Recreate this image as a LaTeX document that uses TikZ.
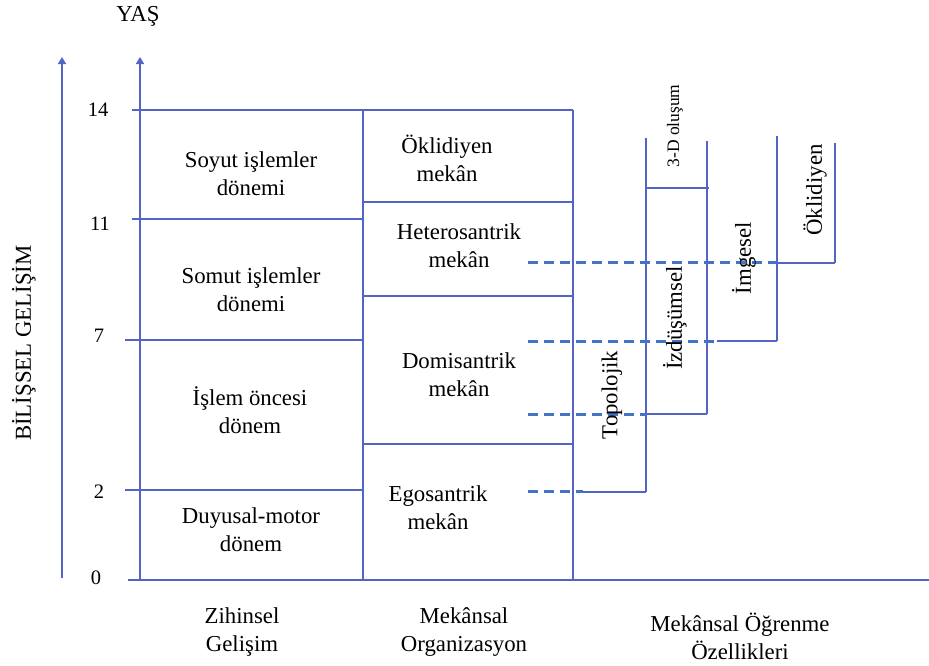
\documentclass[tikz,border=0pt]{standalone}
\usepackage{fontspec}
\setmainfont{Liberation Serif}
\usetikzlibrary{arrows.meta}
\definecolor{lineblue}{RGB}{84,100,196}
\definecolor{dashblue}{RGB}{68,114,196}
\begin{document}
\begin{tikzpicture}[x=1pt,y=-1pt,
  ln/.style={lineblue, line width=2.4pt},
  ax/.style={lineblue, line width=2.8pt, -{Triangle[length=7pt,width=8pt]}},
  dsh/.style={dashblue, line width=3pt, dash pattern=on 10pt off 6pt},
  lbl/.style={font=\fontsize{22.8}{28}\selectfont, align=center, inner sep=0pt},
  num/.style={font=\fontsize{20.5}{24}\selectfont, inner sep=0pt},
  vlbl/.style={font=\fontsize{22.8}{26}\selectfont, rotate=90, inner sep=0pt}]
\useasboundingbox (0,0) rectangle (929,665);
% axes
\draw[ax] (62,578) -- (62,57);
\draw[ax] (140,581) -- (140,57);
\draw[ln] (128,580) -- (929,580);
% horizontal ticks / row lines
\draw[ln] (132,110) -- (573,110);
\draw[ln] (132,219) -- (363,219);
\draw[ln] (125,340) -- (363,340);
\draw[ln] (125,490) -- (363,490);
% column lines
\draw[ln] (363,110) -- (363,580);
\draw[ln] (573,110) -- (573,580);
\draw[ln] (363,202) -- (573,202);
\draw[ln] (363,296) -- (573,296);
\draw[ln] (363,444) -- (573,444);
% staircase
\draw[ln] (646,138) -- (646,492);
\draw[ln] (707,141) -- (707,414);
\draw[ln] (777,136) -- (777,341);
\draw[ln] (835,143) -- (835,263);
\draw[ln] (583,492) -- (646,492);
\draw[ln] (646,414) -- (707,414);
\draw[ln] (717,341) -- (777,341);
\draw[ln] (777,263) -- (835,263);
\draw[ln] (646,188) -- (709,188);
% dashed
\draw[dsh] (528,491) -- (583,491);
\draw[dsh] (528,414) -- (646,414);
\draw[dsh] (528,341) -- (717,341);
\draw[dsh] (528,262) -- (777,262);
% numbers
\node[num] (n14) at (98,110) {14};
\node[num] (n11) at (100,224) {11};
\node[num] (n7) at (99,336) {7};
\node[num] (n2) at (99,492) {2};
\node[num] (n0) at (96,578) {0};
\node[lbl] (yas) at (138,16) {YAŞ};
\node[vlbl] (bil) at (24,343) {BİLİŞSEL GELİŞİM};
% left column
\node[lbl] (soyut) at (251,174) {Soyut işlemler\\dönemi};
\node[lbl] (somut) at (251,290) {Somut işlemler\\dönemi};
\node[lbl] (islem) at (250,410) {İşlem öncesi\\dönem};
\node[lbl] (duyu) at (251,530) {Duyusal-motor\\dönem};
% middle column
\node[lbl] (okl) at (447,158) {Öklidiyen\\mekân};
\node[lbl] (het) at (459,246) {Heterosantrik\\mekân};
\node[lbl] (dom) at (459,375) {Domisantrik\\mekân};
\node[lbl] (ego) at (438,508) {Egosantrik\\mekân};
% bottom
\node[lbl] (zih) at (242,632) {Zihinsel\\Gelişim};
\node[lbl] (morg) at (464,632) {Mekânsal\\Organizasyon};
\node[lbl] (mog) at (740,636) {Mekânsal Öğrenme\\Özellikleri};
% vertical labels
\node[vlbl] (topo) at (612,395) {Topolojik};
\node[vlbl] (izd) at (675,318) {İzdüşümsel};
\node[vlbl, font=\fontsize{17.5}{20}\selectfont] (td) at (675,126) {3-D oluşum};
\node[vlbl] (img) at (744,258) {İmgesel};
\node[vlbl] (okl2) at (815,190) {Öklidiyen};
\end{tikzpicture}
\end{document}
